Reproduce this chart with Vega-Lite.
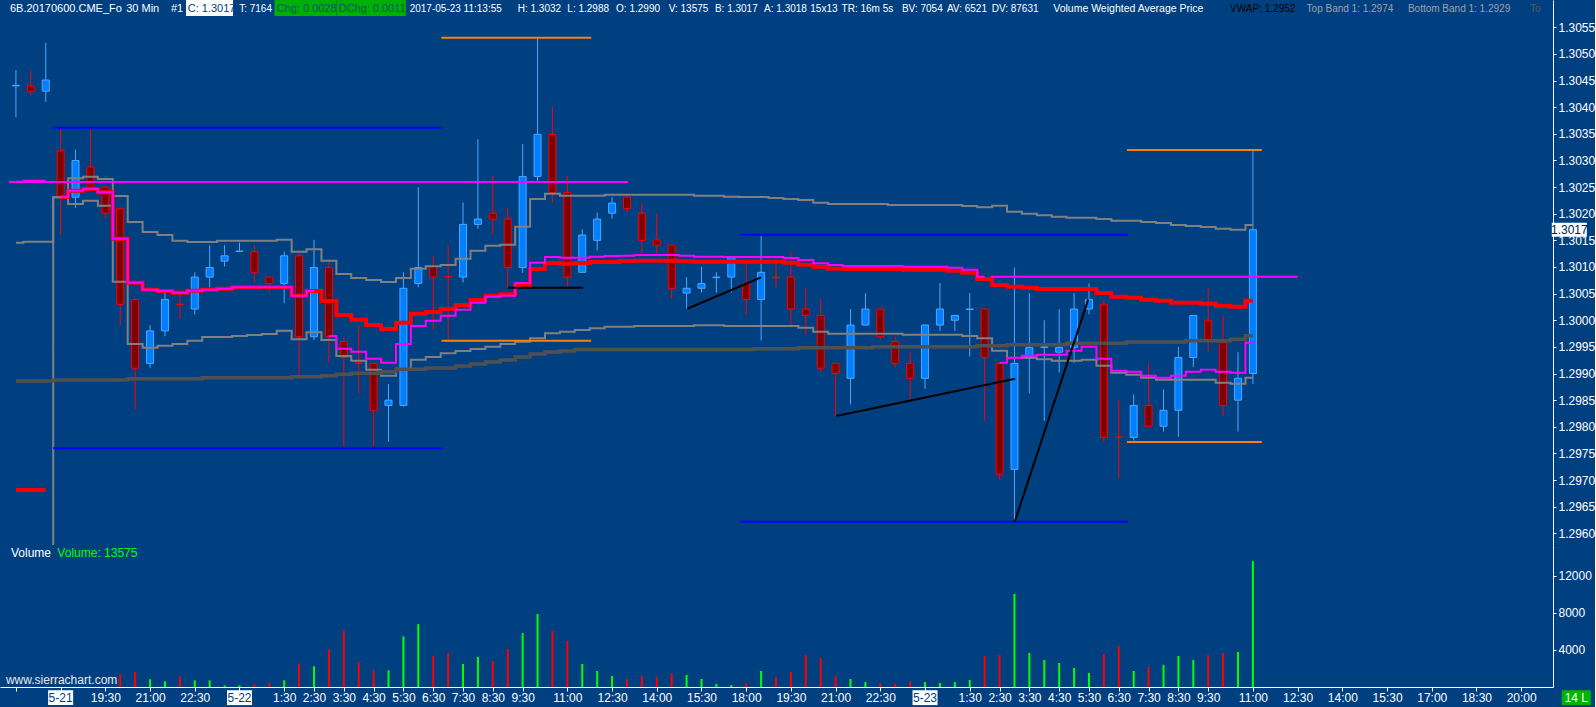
{
  "$schema": "https://vega.github.io/schema/vega-lite/v6.json",
  "description": "6B 30 min candlestick chart with VWAP bands, levels and volume",
  "background": "#004080",
  "padding": 0,
  "spacing": 0,
  "config": {
    "view": {"stroke": null},
    "concat": {"spacing": 0},
    "text": {"font": "Liberation Sans", "fontSize": 10, "align": "left", "baseline": "middle", "color": "#ffffff"},
    "axis": {"labelOverlap": false}
  },
  "datasets": {
    "bars": [
      {"i":0,"o":1.3044,"h":1.3047,"l":1.30381,"c":1.30441,"v":0,"u":1.301456,"lb":1.294747,"r":1.296812,"m":1.302601,"vw":1.298859,"rs":0,"ms":0},
      {"i":1,"o":1.3044,"h":1.3047,"l":1.30422,"c":1.3043,"v":0,"u":1.301474,"lb":1.294747,"r":1.296812,"m":1.30262,"vw":1.298859,"rs":0,"ms":0},
      {"i":2,"o":1.3043,"h":1.30521,"l":1.3041,"c":1.30451,"v":0,"u":1.301474,"lb":1.294747,"r":1.296812,"m":1.30262,"vw":1.298859,"rs":0,"ms":0},
      {"i":3,"o":1.30318,"h":1.30359,"l":1.3016,"c":1.30231,"v":0,"u":1.302308,"lb":1.302308,"r":1.302314,"m":1.302314,"vw":1.298878,"rs":1,"ms":1},
      {"i":4,"o":1.30231,"h":1.3032,"l":1.30211,"c":1.303,"v":0,"u":1.302665,"lb":1.302182,"r":1.302432,"m":1.302432,"vw":1.298878,"rs":1,"ms":1},
      {"i":5,"o":1.30288,"h":1.30359,"l":1.30245,"c":1.3025,"v":0,"u":1.302695,"lb":1.302244,"r":1.302464,"m":1.302464,"vw":1.298878,"rs":1,"ms":1},
      {"i":6,"o":1.3025,"h":1.30252,"l":1.30191,"c":1.30201,"v":0,"u":1.302652,"lb":1.30215,"r":1.302402,"m":1.302402,"vw":1.298878,"rs":1,"ms":1},
      {"i":7,"o":1.3021,"h":1.30212,"l":1.29991,"c":1.3003,"v":1370,"u":1.302332,"lb":1.300723,"r":1.301531,"m":1.301531,"vw":1.298878,"rs":1,"ms":1},
      {"i":8,"o":1.30039,"h":1.30042,"l":1.29833,"c":1.2991,"v":1650,"u":1.301844,"lb":1.299554,"r":1.300705,"m":1.300705,"vw":1.298902,"rs":1,"ms":1},
      {"i":9,"o":1.29919,"h":1.29991,"l":1.29911,"c":1.2998,"v":830,"u":1.301657,"lb":1.299484,"r":1.300573,"m":1.300573,"vw":1.298902,"rs":1,"ms":1},
      {"i":10,"o":1.2998,"h":1.30052,"l":1.2997,"c":1.30039,"v":610,"u":1.3016,"lb":1.299522,"r":1.300549,"m":1.300549,"vw":1.298902,"rs":1,"ms":1},
      {"i":11,"o":1.3003,"h":1.30057,"l":1.30002,"c":1.30029,"v":1150,"u":1.301493,"lb":1.299554,"r":1.300517,"m":1.300517,"vw":1.298902,"rs":1,"ms":1},
      {"i":12,"o":1.30021,"h":1.3009,"l":1.30011,"c":1.30081,"v":720,"u":1.301469,"lb":1.299616,"r":1.300554,"m":1.300554,"vw":1.298902,"rs":1,"ms":1},
      {"i":13,"o":1.30081,"h":1.30141,"l":1.30062,"c":1.30099,"v":720,"u":1.301469,"lb":1.299685,"r":1.300573,"m":1.300573,"vw":1.298921,"rs":1,"ms":1},
      {"i":14,"o":1.30111,"h":1.30141,"l":1.30101,"c":1.30121,"v":180,"u":1.301493,"lb":1.299685,"r":1.300592,"m":1.300592,"vw":1.298921,"rs":1,"ms":1},
      {"i":15,"o":1.30129,"h":1.30146,"l":1.30129,"c":1.3013,"v":180,"u":1.301493,"lb":1.299704,"r":1.300618,"m":1.300618,"vw":1.298921,"rs":1,"ms":1},
      {"i":16,"o":1.30129,"h":1.30141,"l":1.30071,"c":1.3009,"v":290,"u":1.301493,"lb":1.299723,"r":1.300618,"m":1.300618,"vw":1.298921,"rs":1,"ms":1},
      {"i":17,"o":1.30081,"h":1.30081,"l":1.30052,"c":1.30069,"v":400,"u":1.301493,"lb":1.299741,"r":1.300618,"m":1.300618,"vw":1.298921,"rs":1,"ms":1},
      {"i":18,"o":1.30069,"h":1.30129,"l":1.30032,"c":1.30121,"v":720,"u":1.301512,"lb":1.299803,"r":1.300618,"m":1.300618,"vw":1.298921,"rs":1,"ms":1},
      {"i":19,"o":1.30121,"h":1.30126,"l":1.29897,"c":1.29969,"v":2520,"u":1.301287,"lb":1.299642,"r":1.30046,"m":1.30046,"vw":1.29894,"rs":1,"ms":1},
      {"i":20,"o":1.29969,"h":1.30151,"l":1.29963,"c":1.30099,"v":2230,"u":1.301332,"lb":1.299773,"r":1.300549,"m":1.300549,"vw":1.29894,"rs":1,"ms":1},
      {"i":21,"o":1.30099,"h":1.3011,"l":1.29921,"c":1.29969,"v":4060,"u":1.301118,"lb":1.299629,"r":1.300361,"m":1.299704,"vw":1.298958,"rs":1,"ms":2},
      {"i":22,"o":1.2996,"h":1.29969,"l":1.29763,"c":1.2993,"v":6110,"u":1.300868,"lb":1.299328,"r":1.300098,"m":1.299465,"vw":1.298985,"rs":1,"ms":2},
      {"i":23,"o":1.2992,"h":1.29991,"l":1.29863,"c":1.29919,"v":2660,"u":1.300793,"lb":1.29924,"r":1.30001,"m":1.299409,"vw":1.299004,"rs":1,"ms":2},
      {"i":24,"o":1.29919,"h":1.2992,"l":1.29763,"c":1.29831,"v":1800,"u":1.300755,"lb":1.299071,"r":1.29991,"m":1.299278,"vw":1.299004,"rs":1,"ms":2},
      {"i":25,"o":1.2984,"h":1.2988,"l":1.29772,"c":1.2985,"v":1800,"u":1.300718,"lb":1.298958,"r":1.299835,"m":1.299202,"vw":1.299034,"rs":1,"ms":2},
      {"i":26,"o":1.2984,"h":1.3009,"l":1.29838,"c":1.3006,"v":5460,"u":1.300793,"lb":1.29909,"r":1.299954,"m":1.299554,"vw":1.299079,"rs":1,"ms":2},
      {"i":27,"o":1.30069,"h":1.3025,"l":1.30062,"c":1.30099,"v":6780,"u":1.300968,"lb":1.299259,"r":1.300123,"m":1.299892,"vw":1.299079,"rs":1,"ms":2},
      {"i":28,"o":1.30101,"h":1.30121,"l":1.29982,"c":1.30081,"v":3340,"u":1.301013,"lb":1.29931,"r":1.300154,"m":1.299991,"vw":1.299103,"rs":1,"ms":2},
      {"i":29,"o":1.30082,"h":1.30141,"l":1.29963,"c":1.30081,"v":3670,"u":1.301037,"lb":1.299379,"r":1.300211,"m":1.300085,"vw":1.299103,"rs":1,"ms":2},
      {"i":30,"o":1.30081,"h":1.30221,"l":1.30071,"c":1.3018,"v":2480,"u":1.301155,"lb":1.299422,"r":1.300286,"m":1.300198,"vw":1.299141,"rs":1,"ms":2},
      {"i":31,"o":1.3018,"h":1.3034,"l":1.30172,"c":1.3019,"v":3240,"u":1.301305,"lb":1.29946,"r":1.30038,"m":1.300329,"vw":1.299178,"rs":1,"ms":2},
      {"i":32,"o":1.30201,"h":1.30271,"l":1.3016,"c":1.3019,"v":2800,"u":1.301399,"lb":1.299503,"r":1.30046,"m":1.300442,"vw":1.299216,"rs":1,"ms":2},
      {"i":33,"o":1.3019,"h":1.30211,"l":1.30061,"c":1.30099,"v":4100,"u":1.301418,"lb":1.299554,"r":1.300487,"m":1.30046,"vw":1.299253,"rs":1,"ms":2},
      {"i":34,"o":1.30099,"h":1.30331,"l":1.30089,"c":1.3027,"v":5820,"u":1.301756,"lb":1.299597,"r":1.300661,"m":1.300699,"vw":1.29931,"rs":1,"ms":2},
      {"i":35,"o":1.3027,"h":1.30528,"l":1.30261,"c":1.30349,"v":7870,"u":1.302276,"lb":1.299661,"r":1.300962,"m":1.30108,"vw":1.299366,"rs":1,"ms":2},
      {"i":36,"o":1.30349,"h":1.304,"l":1.30221,"c":1.3024,"v":6040,"u":1.302376,"lb":1.299755,"r":1.301075,"m":1.301187,"vw":1.299403,"rs":1,"ms":2},
      {"i":37,"o":1.3024,"h":1.30271,"l":1.30063,"c":1.30081,"v":4960,"u":1.302338,"lb":1.299785,"r":1.301061,"m":1.301174,"vw":1.299422,"rs":1,"ms":2},
      {"i":38,"o":1.3009,"h":1.30171,"l":1.30089,"c":1.3016,"v":2480,"u":1.302338,"lb":1.299817,"r":1.301075,"m":1.301174,"vw":1.29945,"rs":1,"ms":2},
      {"i":39,"o":1.3015,"h":1.30202,"l":1.30131,"c":1.3019,"v":1730,"u":1.302338,"lb":1.299848,"r":1.301093,"m":1.301193,"vw":1.29945,"rs":1,"ms":2},
      {"i":40,"o":1.30201,"h":1.30231,"l":1.30191,"c":1.3022,"v":1190,"u":1.302357,"lb":1.299878,"r":1.301093,"m":1.301206,"vw":1.29945,"rs":1,"ms":2},
      {"i":41,"o":1.30231,"h":1.30232,"l":1.30202,"c":1.3021,"v":860,"u":1.302357,"lb":1.299878,"r":1.301112,"m":1.301212,"vw":1.29945,"rs":1,"ms":2},
      {"i":42,"o":1.30201,"h":1.30221,"l":1.30123,"c":1.3015,"v":1190,"u":1.302357,"lb":1.299892,"r":1.301118,"m":1.301225,"vw":1.29945,"rs":1,"ms":2},
      {"i":43,"o":1.30151,"h":1.30201,"l":1.30123,"c":1.30141,"v":1080,"u":1.302357,"lb":1.299892,"r":1.301118,"m":1.301225,"vw":1.29945,"rs":1,"ms":2},
      {"i":44,"o":1.30141,"h":1.30142,"l":1.3004,"c":1.3006,"v":1510,"u":1.302357,"lb":1.299892,"r":1.301118,"m":1.301225,"vw":1.29945,"rs":1,"ms":2},
      {"i":45,"o":1.30051,"h":1.30081,"l":1.30022,"c":1.3006,"v":1290,"u":1.302357,"lb":1.299892,"r":1.301106,"m":1.301212,"vw":1.29945,"rs":1,"ms":2},
      {"i":46,"o":1.3006,"h":1.301,"l":1.30052,"c":1.30069,"v":860,"u":1.302338,"lb":1.299905,"r":1.301099,"m":1.301193,"vw":1.29945,"rs":1,"ms":2},
      {"i":47,"o":1.3008,"h":1.3009,"l":1.30052,"c":1.30081,"v":320,"u":1.302338,"lb":1.299905,"r":1.301099,"m":1.301193,"vw":1.29945,"rs":1,"ms":2},
      {"i":48,"o":1.30081,"h":1.3012,"l":1.30052,"c":1.30119,"v":220,"u":1.302319,"lb":1.299892,"r":1.301099,"m":1.301187,"vw":1.29945,"rs":1,"ms":2},
      {"i":49,"o":1.30069,"h":1.30107,"l":1.3001,"c":1.30039,"v":430,"u":1.302314,"lb":1.299892,"r":1.301099,"m":1.301187,"vw":1.29945,"rs":1,"ms":2},
      {"i":50,"o":1.30039,"h":1.30158,"l":1.29962,"c":1.3009,"v":1730,"u":1.302314,"lb":1.299892,"r":1.301099,"m":1.301187,"vw":1.299465,"rs":1,"ms":2},
      {"i":51,"o":1.30081,"h":1.30116,"l":1.30061,"c":1.3008,"v":1080,"u":1.302295,"lb":1.299892,"r":1.301099,"m":1.301187,"vw":1.299465,"rs":1,"ms":2},
      {"i":52,"o":1.30081,"h":1.30129,"l":1.29991,"c":1.30021,"v":1620,"u":1.302276,"lb":1.299892,"r":1.30108,"m":1.301168,"vw":1.299465,"rs":1,"ms":2},
      {"i":53,"o":1.30021,"h":1.3006,"l":1.29972,"c":1.30009,"v":3450,"u":1.302257,"lb":1.29986,"r":1.301043,"m":1.301131,"vw":1.299484,"rs":1,"ms":2},
      {"i":54,"o":1.30009,"h":1.3004,"l":1.29902,"c":1.2991,"v":3130,"u":1.302207,"lb":1.299785,"r":1.301005,"m":1.301069,"vw":1.299484,"rs":1,"ms":2},
      {"i":55,"o":1.29919,"h":1.2992,"l":1.2982,"c":1.299,"v":1190,"u":1.302182,"lb":1.299747,"r":1.300968,"m":1.301037,"vw":1.299484,"rs":1,"ms":2},
      {"i":56,"o":1.29891,"h":1.30021,"l":1.29842,"c":1.29991,"v":860,"u":1.302182,"lb":1.299747,"r":1.300962,"m":1.301018,"vw":1.299484,"rs":1,"ms":2},
      {"i":57,"o":1.29991,"h":1.30051,"l":1.2999,"c":1.30021,"v":540,"u":1.302182,"lb":1.299747,"r":1.300962,"m":1.301018,"vw":1.299484,"rs":1,"ms":2},
      {"i":58,"o":1.30021,"h":1.30022,"l":1.29962,"c":1.29969,"v":430,"u":1.302182,"lb":1.299747,"r":1.300962,"m":1.301018,"vw":1.299503,"rs":1,"ms":2},
      {"i":59,"o":1.2996,"h":1.2997,"l":1.29911,"c":1.29919,"v":320,"u":1.302163,"lb":1.299747,"r":1.300962,"m":1.301018,"vw":1.299503,"rs":1,"ms":2},
      {"i":60,"o":1.29919,"h":1.2994,"l":1.2985,"c":1.29891,"v":650,"u":1.302163,"lb":1.299728,"r":1.300949,"m":1.301005,"vw":1.299503,"rs":1,"ms":2},
      {"i":61,"o":1.29891,"h":1.29992,"l":1.29871,"c":1.29991,"v":540,"u":1.302163,"lb":1.299728,"r":1.300949,"m":1.301005,"vw":1.299503,"rs":1,"ms":2},
      {"i":62,"o":1.29991,"h":1.3007,"l":1.2998,"c":1.30021,"v":430,"u":1.302163,"lb":1.299728,"r":1.300949,"m":1.301005,"vw":1.299503,"rs":1,"ms":2},
      {"i":63,"o":1.3,"h":1.3001,"l":1.2998,"c":1.30009,"v":540,"u":1.302163,"lb":1.299728,"r":1.30093,"m":1.300986,"vw":1.299503,"rs":1,"ms":2},
      {"i":64,"o":1.3002,"h":1.30051,"l":1.29932,"c":1.30021,"v":760,"u":1.302145,"lb":1.299704,"r":1.300892,"m":1.300949,"vw":1.299503,"rs":1,"ms":2},
      {"i":65,"o":1.30021,"h":1.30022,"l":1.29811,"c":1.2993,"v":3340,"u":1.30212,"lb":1.299661,"r":1.300774,"m":1.300817,"vw":1.299522,"rs":1,"ms":2},
      {"i":66,"o":1.29919,"h":1.2992,"l":1.29701,"c":1.29711,"v":3450,"u":1.30215,"lb":1.299428,"r":1.300661,"m":1.299202,"vw":1.299522,"rs":1,"ms":3},
      {"i":67,"o":1.2972,"h":1.30099,"l":1.29622,"c":1.29919,"v":10030,"u":1.302038,"lb":1.299296,"r":1.30063,"m":1.299291,"vw":1.29954,"rs":1,"ms":3},
      {"i":68,"o":1.29929,"h":1.30051,"l":1.29863,"c":1.29949,"v":3670,"u":1.302,"lb":1.299296,"r":1.300611,"m":1.299334,"vw":1.29954,"rs":1,"ms":3},
      {"i":69,"o":1.29949,"h":1.3,"l":1.29811,"c":1.2995,"v":2910,"u":1.30197,"lb":1.299266,"r":1.300586,"m":1.299353,"vw":1.29954,"rs":1,"ms":3},
      {"i":70,"o":1.2994,"h":1.30021,"l":1.29902,"c":1.29949,"v":2590,"u":1.301944,"lb":1.29924,"r":1.300586,"m":1.299353,"vw":1.29954,"rs":1,"ms":3},
      {"i":71,"o":1.29949,"h":1.30051,"l":1.2992,"c":1.30021,"v":2050,"u":1.301925,"lb":1.29924,"r":1.300586,"m":1.299428,"vw":1.299567,"rs":1,"ms":3},
      {"i":72,"o":1.30021,"h":1.30069,"l":1.30011,"c":1.30039,"v":1510,"u":1.301925,"lb":1.299259,"r":1.300586,"m":1.299503,"vw":1.299567,"rs":1,"ms":3},
      {"i":73,"o":1.3003,"h":1.30039,"l":1.29772,"c":1.2978,"v":3560,"u":1.301901,"lb":1.299146,"r":1.300511,"m":1.299278,"vw":1.299567,"rs":1,"ms":3},
      {"i":74,"o":1.29781,"h":1.2985,"l":1.29704,"c":1.2978,"v":4420,"u":1.301869,"lb":1.299015,"r":1.300442,"m":1.299052,"vw":1.299567,"rs":1,"ms":3},
      {"i":75,"o":1.2978,"h":1.29861,"l":1.29774,"c":1.2984,"v":1730,"u":1.301869,"lb":1.298977,"r":1.300423,"m":1.299034,"vw":1.299591,"rs":1,"ms":3},
      {"i":76,"o":1.2984,"h":1.29919,"l":1.298,"c":1.29801,"v":2160,"u":1.301844,"lb":1.298921,"r":1.300385,"m":1.298958,"vw":1.299591,"rs":1,"ms":3},
      {"i":77,"o":1.29801,"h":1.2987,"l":1.29791,"c":1.29831,"v":2370,"u":1.301826,"lb":1.298883,"r":1.300367,"m":1.298921,"vw":1.299591,"rs":1,"ms":3},
      {"i":78,"o":1.29831,"h":1.2995,"l":1.29781,"c":1.2993,"v":3340,"u":1.301788,"lb":1.298883,"r":1.300329,"m":1.298958,"vw":1.299591,"rs":1,"ms":3},
      {"i":79,"o":1.2993,"h":1.3001,"l":1.29912,"c":1.30009,"v":2910,"u":1.301769,"lb":1.298883,"r":1.300329,"m":1.299034,"vw":1.299616,"rs":1,"ms":3},
      {"i":80,"o":1.3,"h":1.30061,"l":1.29941,"c":1.29963,"v":3450,"u":1.30175,"lb":1.298883,"r":1.30031,"m":1.299071,"vw":1.299616,"rs":1,"ms":3},
      {"i":81,"o":1.29958,"h":1.30009,"l":1.2982,"c":1.2984,"v":3670,"u":1.301719,"lb":1.298827,"r":1.300273,"m":1.299034,"vw":1.299616,"rs":1,"ms":3},
      {"i":82,"o":1.2985,"h":1.2994,"l":1.29791,"c":1.29891,"v":3770,"u":1.3017,"lb":1.298808,"r":1.300254,"m":1.299015,"vw":1.299642,"rs":1,"ms":3},
      {"i":83,"o":1.299,"h":1.3032,"l":1.2988,"c":1.3017,"v":13575,"u":1.301788,"lb":1.298921,"r":1.300367,"m":1.299578,"vw":1.299709,"rs":1,"ms":3}
    ],
    "levels": [
      {"from":2.5,"to":28.6,"p":1.303615,"kind":"blue"},
      {"from":2.5,"to":28.6,"p":1.297595,"kind":"blue"},
      {"from":48.6,"to":74.6,"p":1.301606,"kind":"blue"},
      {"from":48.6,"to":74.6,"p":1.296217,"kind":"blue"},
      {"from":28.55,"to":38.6,"p":1.305305,"kind":"orange"},
      {"from":28.55,"to":38.6,"p":1.299616,"kind":"orange"},
      {"from":74.55,"to":83.6,"p":1.303196,"kind":"orange"},
      {"from":74.55,"to":83.6,"p":1.297714,"kind":"orange"},
      {"from":-0.47,"to":41.07,"p":1.302595,"kind":"magenta"},
      {"from":65.4,"to":86,"p":1.300817,"kind":"magenta"}
    ],
    "trends": [
      {"from":33.02,"to":38.05,"p1":1.300611,"p2":1.300611},
      {"from":45.05,"to":50.0,"p1":1.300216,"p2":1.300806},
      {"from":55.05,"to":67.05,"p1":1.298202,"p2":1.298902},
      {"from":67.02,"to":71.95,"p1":1.296217,"p2":1.300393}
    ]
  },
  "vconcat": [
    {
      "width": 1553,
      "height": 545,
      "data": {"name": "bars"},
      "layer": [
        {
          "mark": {"type": "rule", "strokeWidth": 1},
          "encoding": {
            "x": {"field": "i", "type": "quantitative", "scale": {"domain": [-0.7333, 102.8], "nice": false, "zero": false}, "axis": null},
            "y": {
              "field": "l", "type": "quantitative",
              "scale": {"domain": [1.29578, 1.306013], "nice": false, "zero": false},
              "axis": {
                "orient": "right", "title": null, "grid": false, "format": ".4f", "tickCount": 100,
                "values": [1.296, 1.2965, 1.297, 1.2975, 1.298, 1.2985, 1.299, 1.2995, 1.3, 1.3005, 1.301, 1.3015, 1.302, 1.3025, 1.303, 1.3035, 1.304, 1.3045, 1.305, 1.3055],
                "domainColor": "#ffffff", "tickColor": "#ffffff", "tickSize": 3,
                "labelColor": "#ffffff", "labelFont": "Liberation Sans", "labelFontSize": 12, "labelPadding": 2,
                "labelOverlap": false, "labelBound": false, "labelFlush": false
              }
            },
            "y2": {"field": "h"},
            "color": {"condition": {"test": "datum.c >= datum.o", "value": "#4da6ff"}, "value": "#ff0000"}
          }
        },
        {
          "mark": {"type": "bar", "size": 7, "strokeWidth": 1},
          "encoding": {
            "x": {"field": "i", "type": "quantitative"},
            "y": {"field": "o", "type": "quantitative"},
            "y2": {"field": "c"},
            "fill": {"condition": {"test": "datum.c >= datum.o", "value": "#0080ff"}, "value": "#800000"},
            "stroke": {"condition": {"test": "datum.c >= datum.o", "value": "#4da6ff"}, "value": "#ff0000"}
          }
        },
        {
          "mark": {"type": "line", "interpolate": "step", "color": "#808080", "strokeWidth": 2, "clip": true},
          "encoding": {"x": {"field": "i", "type": "quantitative"}, "y": {"field": "u", "type": "quantitative"}}
        },
        {
          "mark": {"type": "line", "interpolate": "step", "color": "#808080", "strokeWidth": 2, "clip": true},
          "encoding": {"x": {"field": "i", "type": "quantitative"}, "y": {"field": "lb", "type": "quantitative"}}
        },
        {
          "mark": {"type": "line", "interpolate": "step", "color": "#505050", "strokeWidth": 3.5},
          "encoding": {"x": {"field": "i", "type": "quantitative"}, "y": {"field": "vw", "type": "quantitative"}}
        },
        {
          "mark": {"type": "line", "interpolate": "step", "color": "#ff0000", "strokeWidth": 4},
          "encoding": {"x": {"field": "i", "type": "quantitative"}, "y": {"field": "r", "type": "quantitative"}, "detail": {"field": "rs"}}
        },
        {
          "mark": {"type": "line", "interpolate": "step", "color": "#ff00ff", "strokeWidth": 2},
          "encoding": {"x": {"field": "i", "type": "quantitative"}, "y": {"field": "m", "type": "quantitative"}, "detail": {"field": "ms"}}
        },
        {
          "data": {"name": "levels"},
          "mark": {"type": "rule", "strokeWidth": 2},
          "encoding": {
            "x": {"field": "from", "type": "quantitative"},
            "x2": {"field": "to"},
            "y": {"field": "p", "type": "quantitative"},
            "color": {"field": "kind", "type": "nominal", "scale": {"domain": ["blue", "orange", "magenta"], "range": ["#0000ff", "#ff8000", "#ff00ff"]}, "legend": null}
          }
        },
        {
          "data": {"name": "trends"},
          "mark": {"type": "rule", "strokeWidth": 2, "color": "#000000"},
          "encoding": {
            "x": {"field": "from", "type": "quantitative"},
            "x2": {"field": "to"},
            "y": {"field": "p1", "type": "quantitative"},
            "y2": {"field": "p2"}
          }
        },
        {
          "data": {"values": [{"t": "C"}]},
          "mark": {"type": "bar", "size": 47, "color": "#ffffff"},
          "encoding": {"x": {"datum": 12.99, "type": "quantitative"}, "y": {"datum": 1.306013, "type": "quantitative"}, "y2": {"datum": 1.305712}}
        },
        {
          "data": {"values": [{"t": "Chg"}]},
          "mark": {"type": "bar", "size": 62, "color": "#00b000"},
          "encoding": {"x": {"datum": 19.43, "type": "quantitative"}, "y": {"datum": 1.306013, "type": "quantitative"}, "y2": {"datum": 1.305712}}
        },
        {
          "data": {"values": [{"t": "DChg"}]},
          "mark": {"type": "bar", "size": 69, "color": "#00b000"},
          "encoding": {"x": {"datum": 23.85, "type": "quantitative"}, "y": {"datum": 1.306013, "type": "quantitative"}, "y2": {"datum": 1.305712}}
        },
        {"data": {"values": [{"t": "6B.20170600.CME_Fo"}]}, "mark": {"type": "text", "fontSize": 11},
         "encoding": {"x": {"datum": -0.4, "type": "quantitative"}, "y": {"datum": 1.305844, "type": "quantitative"}, "text": {"field": "t"}}},
        {"data": {"values": [{"t": "30 Min"}]}, "mark": {"type": "text", "fontSize": 11},
         "encoding": {"x": {"datum": 7.4, "type": "quantitative"}, "y": {"datum": 1.305844, "type": "quantitative"}, "text": {"field": "t"}}},
        {"data": {"values": [{"t": "#1"}]}, "mark": {"type": "text", "fontSize": 11},
         "encoding": {"x": {"datum": 10.4, "type": "quantitative"}, "y": {"datum": 1.305844, "type": "quantitative"}, "text": {"field": "t"}}},
        {"data": {"values": [{"t": "C: 1.3017"}]}, "mark": {"type": "text", "fontSize": 11, "color": "#004080"},
         "encoding": {"x": {"datum": 11.53, "type": "quantitative"}, "y": {"datum": 1.305844, "type": "quantitative"}, "text": {"field": "t"}}},
        {"data": {"values": [{"t": "T: 7164"}]}, "mark": {"type": "text"},
         "encoding": {"x": {"datum": 14.98, "type": "quantitative"}, "y": {"datum": 1.305844, "type": "quantitative"}, "text": {"field": "t"}}},
        {"data": {"values": [{"t": "Chg: 0.0028"}]}, "mark": {"type": "text", "fontSize": 11, "color": "#00506a"},
         "encoding": {"x": {"datum": 17.49, "type": "quantitative"}, "y": {"datum": 1.305844, "type": "quantitative"}, "text": {"field": "t"}}},
        {"data": {"values": [{"t": "DChg: 0.0011"}]}, "mark": {"type": "text", "fontSize": 11, "color": "#00506a"},
         "encoding": {"x": {"datum": 21.65, "type": "quantitative"}, "y": {"datum": 1.305844, "type": "quantitative"}, "text": {"field": "t"}}},
        {"data": {"values": [{"t": "2017-05-23 11:13:55"}]}, "mark": {"type": "text"},
         "encoding": {"x": {"datum": 26.42, "type": "quantitative"}, "y": {"datum": 1.305844, "type": "quantitative"}, "text": {"field": "t"}}},
        {"data": {"values": [{"t": "H: 1.3032"}]}, "mark": {"type": "text"},
         "encoding": {"x": {"datum": 33.67, "type": "quantitative"}, "y": {"datum": 1.305844, "type": "quantitative"}, "text": {"field": "t"}}},
        {"data": {"values": [{"t": "L: 1.2988"}]}, "mark": {"type": "text"},
         "encoding": {"x": {"datum": 37.0, "type": "quantitative"}, "y": {"datum": 1.305844, "type": "quantitative"}, "text": {"field": "t"}}},
        {"data": {"values": [{"t": "O: 1.2990"}]}, "mark": {"type": "text"},
         "encoding": {"x": {"datum": 40.27, "type": "quantitative"}, "y": {"datum": 1.305844, "type": "quantitative"}, "text": {"field": "t"}}},
        {"data": {"values": [{"t": "V: 13575"}]}, "mark": {"type": "text"},
         "encoding": {"x": {"datum": 43.8, "type": "quantitative"}, "y": {"datum": 1.305844, "type": "quantitative"}, "text": {"field": "t"}}},
        {"data": {"values": [{"t": "B: 1.3017"}]}, "mark": {"type": "text"},
         "encoding": {"x": {"datum": 46.9, "type": "quantitative"}, "y": {"datum": 1.305844, "type": "quantitative"}, "text": {"field": "t"}}},
        {"data": {"values": [{"t": "A: 1.3018"}]}, "mark": {"type": "text"},
         "encoding": {"x": {"datum": 50.2, "type": "quantitative"}, "y": {"datum": 1.305844, "type": "quantitative"}, "text": {"field": "t"}}},
        {"data": {"values": [{"t": "15x13"}]}, "mark": {"type": "text"},
         "encoding": {"x": {"datum": 53.3, "type": "quantitative"}, "y": {"datum": 1.305844, "type": "quantitative"}, "text": {"field": "t"}}},
        {"data": {"values": [{"t": "TR: 16m 5s"}]}, "mark": {"type": "text"},
         "encoding": {"x": {"datum": 55.4, "type": "quantitative"}, "y": {"datum": 1.305844, "type": "quantitative"}, "text": {"field": "t"}}},
        {"data": {"values": [{"t": "BV: 7054"}]}, "mark": {"type": "text"},
         "encoding": {"x": {"datum": 59.45, "type": "quantitative"}, "y": {"datum": 1.305844, "type": "quantitative"}, "text": {"field": "t"}}},
        {"data": {"values": [{"t": "AV: 6521"}]}, "mark": {"type": "text"},
         "encoding": {"x": {"datum": 62.47, "type": "quantitative"}, "y": {"datum": 1.305844, "type": "quantitative"}, "text": {"field": "t"}}},
        {"data": {"values": [{"t": "DV: 87631"}]}, "mark": {"type": "text"},
         "encoding": {"x": {"datum": 65.47, "type": "quantitative"}, "y": {"datum": 1.305844, "type": "quantitative"}, "text": {"field": "t"}}},
        {"data": {"values": [{"t": "Volume Weighted Average Price"}]}, "mark": {"type": "text", "fontSize": 10.5},
         "encoding": {"x": {"datum": 69.6, "type": "quantitative"}, "y": {"datum": 1.305844, "type": "quantitative"}, "text": {"field": "t"}}},
        {"data": {"values": [{"t": "VWAP: 1.2952"}]}, "mark": {"type": "text", "color": "#000000"},
         "encoding": {"x": {"datum": 81.47, "type": "quantitative"}, "y": {"datum": 1.305844, "type": "quantitative"}, "text": {"field": "t"}}},
        {"data": {"values": [{"t": "Top Band 1: 1.2974"}]}, "mark": {"type": "text", "color": "#a0a0a0"},
         "encoding": {"x": {"datum": 86.6, "type": "quantitative"}, "y": {"datum": 1.305844, "type": "quantitative"}, "text": {"field": "t"}}},
        {"data": {"values": [{"t": "Bottom Band 1: 1.2929"}]}, "mark": {"type": "text", "color": "#a0a0a0"},
         "encoding": {"x": {"datum": 93.4, "type": "quantitative"}, "y": {"datum": 1.305844, "type": "quantitative"}, "text": {"field": "t"}}},
        {"data": {"values": [{"t": "To"}]}, "mark": {"type": "text", "color": "#5a5a5a"},
         "encoding": {"x": {"datum": 101.6, "type": "quantitative"}, "y": {"datum": 1.305844, "type": "quantitative"}, "text": {"field": "t"}}},
        {
          "data": {"values": [{"t": "1.3017"}]},
          "mark": {"type": "bar", "size": 35, "color": "#ffffff"},
          "encoding": {"x": {"datum": 104.23, "type": "quantitative"}, "y": {"datum": 1.301831, "type": "quantitative"}, "y2": {"datum": 1.301568}}
        },
        {
          "data": {"values": [{"t": "1.3017"}]},
          "mark": {"type": "text", "align": "center", "fontSize": 12, "color": "#002050"},
          "encoding": {"x": {"datum": 104.23, "type": "quantitative"}, "y": {"datum": 1.3017, "type": "quantitative"}, "text": {"field": "t"}}
        }
      ]
    },
    {
      "width": 1553,
      "height": 142,
      "data": {"name": "bars"},
      "layer": [
        {
          "mark": {"type": "bar", "size": 2},
          "encoding": {
            "x": {
              "field": "i", "type": "quantitative",
              "scale": {"domain": [-0.7333, 102.8], "nice": false, "zero": false},
              "axis": {
                "orient": "bottom", "title": null, "grid": false, "tickCount": 200,
                "values": [0, 3, 6, 9, 12, 15, 18, 20, 22, 24, 26, 28, 30, 32, 34, 37, 40, 43, 46, 49, 52, 55, 58, 61, 64, 66, 68, 70, 72, 74, 76, 78, 80, 83, 86, 89, 92, 95, 98, 101],
                "labelExpr": "['','','19:30','21:00','22:30','','1:30','2:30','3:30','4:30','5:30','6:30','7:30','8:30','9:30','11:00','12:30','14:00','15:30','18:00','19:30','21:00','22:30','','1:30','2:30','3:30','4:30','5:30','6:30','7:30','8:30','9:30','11:00','12:30','14:00','15:30','17:00','18:30','20:00'][indexof([0,3,6,9,12,15,18,20,22,24,26,28,30,32,34,37,40,43,46,49,52,55,58,61,64,66,68,70,72,74,76,78,80,83,86,89,92,95,98,101], datum.value)]",
                "domainColor": "#ffffff", "tickColor": "#ffffff", "tickSize": 4,
                "labelColor": "#ffffff", "labelFont": "Liberation Sans", "labelFontSize": 12, "labelPadding": 1,
                "labelOverlap": false, "labelBound": false, "labelFlush": false,
                "minExtent": 20, "maxExtent": 20
              }
            },
            "y": {
              "field": "v", "type": "quantitative",
              "scale": {"domain": [0, 15310], "nice": false},
              "axis": {
                "orient": "right", "title": null, "grid": false, "format": "d", "tickCount": 20,
                "values": [4000, 8000, 12000],
                "domainColor": "#ffffff", "tickColor": "#ffffff", "tickSize": 3,
                "labelColor": "#ffffff", "labelFont": "Liberation Sans", "labelFontSize": 12, "labelPadding": 2,
                "labelOverlap": false, "labelBound": false, "labelFlush": false
              }
            },
            "color": {"condition": {"test": "datum.c >= datum.o", "value": "#00ff00"}, "value": "#ff0000"}
          }
        },
        {
          "data": {"values": [{"i": 3, "label": "5-21"}, {"i": 15, "label": "5-22"}, {"i": 61, "label": "5-23"}]},
          "mark": {"type": "bar", "size": 25, "color": "#ffffff"},
          "encoding": {"x": {"field": "i", "type": "quantitative"}, "y": {"datum": -350, "type": "quantitative"}, "y2": {"datum": -1950}}
        },
        {
          "data": {"values": [{"i": 3, "label": "5-21"}, {"i": 15, "label": "5-22"}, {"i": 61, "label": "5-23"}]},
          "mark": {"type": "text", "align": "center", "fontSize": 12, "color": "#004080"},
          "encoding": {"x": {"field": "i", "type": "quantitative"}, "y": {"datum": -1180, "type": "quantitative"}, "text": {"field": "label"}}
        },
        {
          "data": {"values": [{"t": "14 L"}]},
          "mark": {"type": "bar", "size": 29, "color": "#00b400"},
          "encoding": {"x": {"datum": 104.7, "type": "quantitative"}, "y": {"datum": -350, "type": "quantitative"}, "y2": {"datum": -1950}}
        },
        {
          "data": {"values": [{"t": "14 L"}]},
          "mark": {"type": "text", "align": "center", "fontSize": 12},
          "encoding": {"x": {"datum": 104.7, "type": "quantitative"}, "y": {"datum": -1180, "type": "quantitative"}, "text": {"field": "t"}}
        },
        {
          "data": {"values": [{"t": "Volume"}]},
          "mark": {"type": "text", "fontSize": 12},
          "encoding": {"x": {"datum": -0.33, "type": "quantitative"}, "y": {"datum": 14450, "type": "quantitative"}, "text": {"field": "t"}}
        },
        {
          "data": {"values": [{"t": "Volume: 13575"}]},
          "mark": {"type": "text", "fontSize": 12, "color": "#00ff00"},
          "encoding": {"x": {"datum": 2.78, "type": "quantitative"}, "y": {"datum": 14450, "type": "quantitative"}, "text": {"field": "t"}}
        },
        {
          "data": {"values": [{"t": "www.sierrachart.com"}]},
          "mark": {"type": "text", "fontSize": 12, "color": "#e8e8e8"},
          "encoding": {"x": {"datum": -0.67, "type": "quantitative"}, "y": {"datum": 755, "type": "quantitative"}, "text": {"field": "t"}}
        }
      ]
    }
  ]
}
